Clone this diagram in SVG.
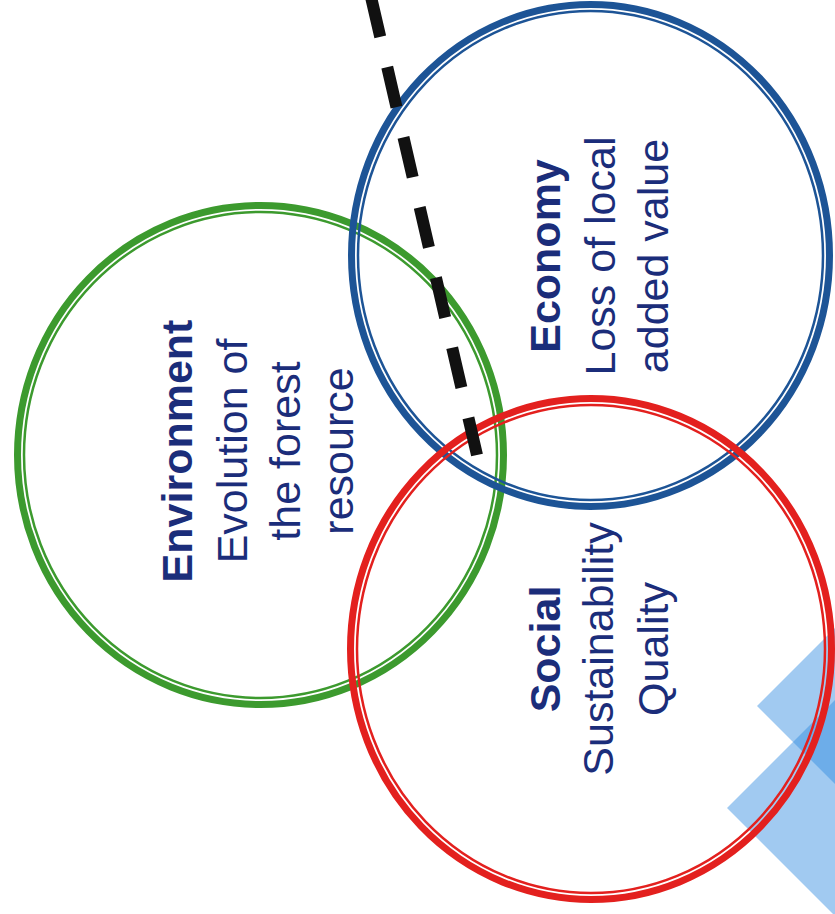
<svg xmlns="http://www.w3.org/2000/svg" width="835" height="914" viewBox="0 0 835 914">
<style>
.ring{fill:none}
.thick{stroke-width:7}
.thin{stroke-width:2.5}
.g{stroke:#3c9a2e}
.b{stroke:#1d5496}
.r{stroke:#e3201e}
.t{font-family:"Liberation Sans",Arial,sans-serif;font-size:43px;fill:#1b2d7a;text-anchor:middle}
.bold{font-weight:bold}
.dia{fill:#2f8ae0;fill-opacity:0.45}
</style>
<rect width="835" height="914" fill="#ffffff"/>
<g id="decor">
<polygon class="dia" points="757,706 900,563 1043,706 900,849"/>
<polygon class="dia" points="727,808 870,665 1013,808 870,951"/>
</g>
<g id="environment">
<ellipse class="ring thick g" cx="260.5" cy="455" rx="243" ry="249.5"/>
<ellipse class="ring thin g" cx="260.5" cy="455" rx="236.5" ry="243"/>
</g>
<g id="economy">
<ellipse class="ring thick b" cx="590.5" cy="255.5" rx="239" ry="251"/>
<ellipse class="ring thin b" cx="590.5" cy="255.5" rx="232.5" ry="244.5"/>
</g>
<g id="social">
<ellipse class="ring thick r" cx="591" cy="649" rx="240.5" ry="250.5"/>
<ellipse class="ring thin r" cx="591" cy="649" rx="234" ry="244"/>
</g>
<g id="connectors">
<line x1="371" y1="-3" x2="477" y2="455" stroke="#111111" stroke-width="12" stroke-dasharray="41 31"/>
</g>
<g id="labels">
<text class="t bold" transform="translate(192,451) rotate(-90)">Environment</text>
<text class="t" transform="translate(247,451) rotate(-90)">Evolution of</text>
<text class="t" transform="translate(300,451) rotate(-90)">the forest</text>
<text class="t" transform="translate(353,451) rotate(-90)">resource</text>
<text class="t bold" transform="translate(560,256) rotate(-90)">Economy</text>
<text class="t" transform="translate(615,256) rotate(-90)">Loss of local</text>
<text class="t" transform="translate(668,256) rotate(-90)">added value</text>
<text class="t bold" transform="translate(560,649) rotate(-90)">Social</text>
<text class="t" transform="translate(613,649) rotate(-90)">Sustainability</text>
<text class="t" transform="translate(668,649) rotate(-90)">Quality</text>
</g>
</svg>
